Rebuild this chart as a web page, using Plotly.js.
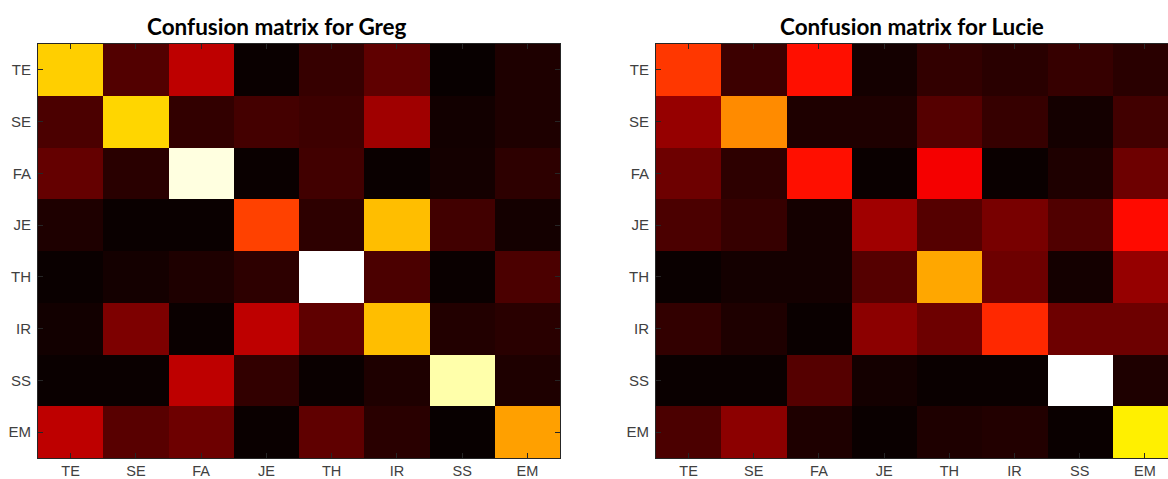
<!DOCTYPE html>
<html>
<head>
<meta charset="utf-8">
<script src="https://cdn.plot.ly/plotly-3.0.1.min.js"></script>
<style>
html,body{margin:0;padding:0;overflow:hidden;background:#fff;}
#chart{width:1190px;height:479px;}
</style>
</head>
<body>
<div id="chart"></div>
<script>
// Class labels
const classes = ["TE","SE","FA","JE","TH","IR","SS","EM"];

// Confusion matrix values (rows = true class, cols = predicted), scale 0-100
const gregValues = [
  [68, 12, 28, 1.5, 8, 14, 1.2, 4.4],
  [11, 69, 7.4, 10, 9, 23.5, 2.6, 4.4],
  [14.7, 6, 97, 1.5, 9.5, 1.5, 3, 6.6],
  [4.4, 1.5, 1.5, 47, 6.6, 65.5, 9.5, 3],
  [1.5, 3, 4.4, 6.6, 100, 11, 1.5, 11],
  [2.6, 18.4, 1.5, 28, 14, 65.5, 5, 6],
  [1.5, 1.5, 28, 7.4, 1.5, 4.4, 91.7, 4.4],
  [28, 13, 16, 1.5, 14, 6, 1.2, 61]
];
const lucieValues = [
  [45.6, 8.8, 39.7, 3, 7.4, 6, 8, 6],
  [22, 58, 4.4, 4.4, 12.5, 8, 3, 9.5],
  [16, 6.6, 39.7, 1.5, 36, 1.5, 4.4, 16],
  [11, 8, 3, 23.5, 12.5, 17.6, 11.8, 39],
  [1.5, 3, 3, 12.5, 62, 16, 3, 22],
  [7.4, 4.4, 1.5, 20.6, 16, 43.4, 16, 16],
  [1.5, 1.5, 12.5, 3, 1.5, 1.5, 100, 4.4],
  [11, 20.6, 4.4, 1.5, 4.4, 5, 1.5, 72.8]
];
const titles = ["Confusion matrix for Greg", "Confusion matrix for Lucie"];

const W = 1190, H = 479;
const hot = [[0,'#000000'],[0.375,'#ff0000'],[0.75,'#ffff00'],[1,'#ffffff']];

function trace(z, xa, ya){
  return {type:'heatmap', z:z, x:classes, y:classes, xaxis:xa, yaxis:ya,
    colorscale:hot, zmin:0, zmax:100, showscale:false, hoverinfo:'skip'};
}
function axis(dom, isY){
  const a = {domain:dom, type:'category', showline:true, mirror:'ticks', linecolor:'#262626', linewidth:1,
    ticks:'inside', ticklen:5, tickcolor:'#262626', tickwidth:1, showgrid:false, zeroline:false,
    tickfont:{family:'Liberation Sans, Arial, sans-serif', size:15, color:'#404040'}, automargin:false, fixedrange:true};
  if(isY){ a.autorange='reversed'; a.ticklabelstandoff = 3; }
  else { a.ticklabelstandoff = 0; a.tickfont = Object.assign({}, a.tickfont, {size:14.5}); }
  return a;
}
const yd = [(H-458)/H, (H-44)/H];
const tfont = {family:'Lato, sans-serif', size:22.5, color:'#000'};
const layout = {
  width:W, height:H, margin:{l:0,r:0,t:0,b:0}, paper_bgcolor:'#fff', plot_bgcolor:'#fff',
  xaxis: axis([38/W, 560/W], false),
  yaxis: axis(yd, true),
  xaxis2: axis([656/W, 1177.5/W], false),
  yaxis2: axis(yd, true),
  annotations: [
    {text:'<b>'+titles[0]+'</b>', xref:'paper', yref:'paper', x:277/W, y:(H-27)/H, showarrow:false,
     xanchor:'center', yanchor:'middle', font:tfont},
    {text:'<b>'+titles[1]+'</b>', xref:'paper', yref:'paper', x:912/W, y:(H-27)/H, showarrow:false,
     xanchor:'center', yanchor:'middle', font:tfont}
  ]
};
layout.yaxis2.anchor='x2'; layout.xaxis2.anchor='y2';
layout.xaxis.anchor='y'; layout.yaxis.anchor='x';
Plotly.newPlot('chart', [trace(gregValues,'x','y'), trace(lucieValues,'x2','y2')], layout, {staticPlot:true, displayModeBar:false});
</script>
</body>
</html>
